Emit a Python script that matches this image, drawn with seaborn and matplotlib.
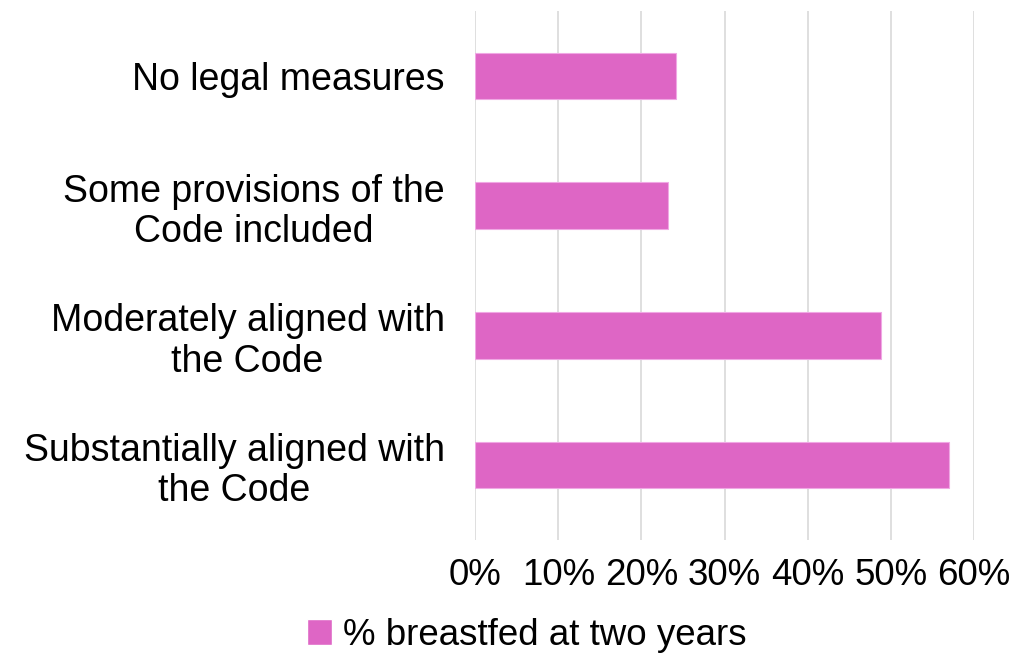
import pandas as pd
import matplotlib.pyplot as plt
import seaborn as sns
from matplotlib.ticker import PercentFormatter
from matplotlib.patches import Patch

categories = ['No legal measures',
              'Some provisions of the\nCode included',
              'Moderately aligned with\nthe Code',
              'Substantially aligned with\nthe Code']
values = [24.2, 23.2, 48.8, 57.0]
series_name = '% breastfed at two years'
xticks = [0, 10, 20, 30, 40, 50, 60]

df = pd.DataFrame({'category': categories, 'value': values})

sns.set_style('white')
plt.rcParams['font.family'] = ['Liberation Sans', 'DejaVu Sans']
plt.rcParams['text.color'] = 'black'
plt.rcParams['xtick.color'] = 'black'
plt.rcParams['ytick.color'] = 'black'

fig = plt.figure(figsize=(10.33, 6.59), dpi=100)
ax = fig.add_axes([0.46, 0.18, 0.483, 0.803])

pink = '#DE66C5'
sns.barplot(data=df, y='category', x='value', color=pink, width=0.36,
            saturation=1, edgecolor='#F0A8E4', linewidth=0.8, ax=ax)

ax.set_xlim(0, 60)
ax.set_ylim(3.58, -0.5)
ax.set_xticks(xticks)
ax.xaxis.set_major_formatter(PercentFormatter(decimals=0))
ax.grid(axis='x', color='#D9D9D9', linewidth=1.2)
ax.set_axisbelow(True)
for s in ax.spines.values():
    s.set_visible(False)
ax.set_xlabel('')
ax.set_ylabel('')
ax.tick_params(axis='x', labelsize=26.5, pad=13, length=0)
ax.tick_params(axis='y', labelsize=27, pad=22, length=0)
for lbl in ax.get_yticklabels():
    lbl.set_horizontalalignment('right')
    lbl.set_multialignment('center')
    lbl.set_linespacing(1.15)

fig.legend(handles=[Patch(facecolor=pink, label=series_name)],
           loc='center', bbox_to_anchor=(0.51, 0.036), frameon=False,
           fontsize=26.5, handlelength=0.7, handleheight=0.7, handletextpad=0.3)

fig.savefig('out.png', dpi=100)
